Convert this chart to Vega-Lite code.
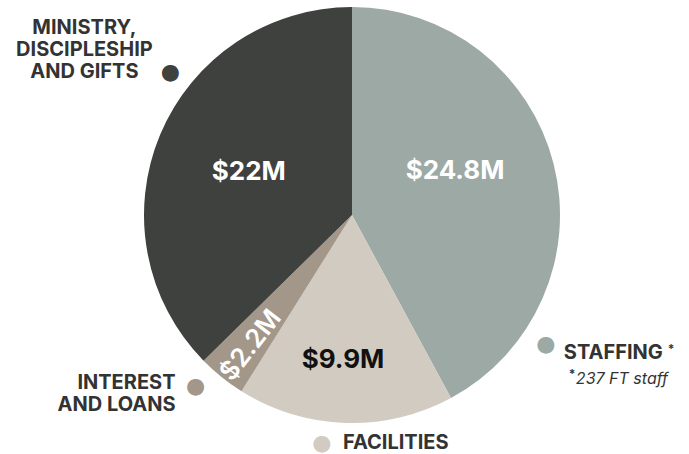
{
  "$schema": "https://vega.github.io/schema/vega-lite/v6.json",
  "width": 674,
  "height": 430,
  "autosize": {"type": "none"},
  "padding": {"left": 15, "top": 0, "right": 0, "bottom": 24},
  "background": "white",
  "config": {"view": {"stroke": null}, "text": {"font": "Inter"}},
  "data": {
    "values": [
      {"category": "Staffing", "value": 24.8, "amount": "$24.8M", "order": 1},
      {"category": "Facilities", "value": 9.9, "amount": "$9.9M", "order": 2},
      {"category": "Interest and Loans", "value": 2.2, "amount": "$2.2M", "order": 3},
      {"category": "Ministry, Discipleship and Gifts", "value": 22, "amount": "$22M", "order": 4}
    ]
  },
  "encoding": {
    "theta": {"field": "value", "type": "quantitative", "stack": true},
    "order": {"field": "order", "type": "quantitative"},
    "detail": {"field": "category", "type": "nominal"}
  },
  "layer": [
    {
      "mark": {"type": "arc", "radius": 208},
      "encoding": {
        "color": {
          "field": "category",
          "type": "nominal",
          "scale": {
            "domain": ["Staffing", "Facilities", "Interest and Loans", "Ministry, Discipleship and Gifts"],
            "range": ["#9da9a5", "#d1cbc1", "#a3978a", "#3f413e"]
          },
          "legend": null
        }
      }
    },
    {
      "mark": {"type": "text", "radius": 112, "thetaOffset": -0.155, "fontSize": 26, "fontWeight": "bold", "color": "white", "align": "center", "baseline": "middle"},
      "encoding": {"text": {"condition": {"test": "datum.category === 'Staffing'", "field": "amount"}, "value": ""}}
    },
    {
      "mark": {"type": "text", "radius": 112, "fontSize": 26, "fontWeight": "bold", "color": "white", "align": "center", "baseline": "middle"},
      "encoding": {"text": {"condition": {"test": "datum.category === 'Ministry, Discipleship and Gifts'", "field": "amount"}, "value": ""}}
    },
    {
      "mark": {"type": "text", "radius": 145, "thetaOffset": 0.03, "fontSize": 26, "fontWeight": "bold", "color": "#111111", "align": "center", "baseline": "middle"},
      "encoding": {"text": {"condition": {"test": "datum.category === 'Facilities'", "field": "amount"}, "value": ""}}
    },
    {
      "mark": {"type": "text", "radius": 165, "thetaOffset": -0.017, "angle": 308, "fontSize": 26, "fontWeight": 600, "color": "white", "align": "center", "baseline": "middle"},
      "encoding": {"text": {"condition": {"test": "datum.category === 'Interest and Loans'", "field": "amount"}, "value": ""}}
    },
    {
      "mark": {"type": "text", "radius": 233, "thetaOffset": 0.836, "font": "DejaVu Sans", "fontSize": 22, "color": "#9da9a5", "align": "center", "baseline": "middle"},
      "encoding": {"text": {"condition": {"test": "datum.category === 'Staffing'", "value": "●"}, "value": ""}}
    },
    {
      "mark": {"type": "text", "radius": 230, "thetaOffset": 0.099, "font": "DejaVu Sans", "fontSize": 22, "color": "#d1cbc1", "align": "center", "baseline": "middle"},
      "encoding": {"text": {"condition": {"test": "datum.category === 'Facilities'", "value": "●"}, "value": ""}}
    },
    {
      "mark": {"type": "text", "radius": 232, "thetaOffset": 0.063, "font": "DejaVu Sans", "fontSize": 22, "color": "#a3978a", "align": "center", "baseline": "middle"},
      "encoding": {"text": {"condition": {"test": "datum.category === 'Interest and Loans'", "value": "●"}, "value": ""}}
    },
    {
      "mark": {"type": "text", "radius": 231, "thetaOffset": 0.269, "font": "DejaVu Sans", "fontSize": 22, "color": "#3f413e", "align": "center", "baseline": "middle"},
      "encoding": {"text": {"condition": {"test": "datum.category === 'Ministry, Discipleship and Gifts'", "value": "●"}, "value": ""}}
    },
    {
      "mark": {"type": "text", "radius": 231, "thetaOffset": 0.269, "dx": -86, "dy": -44, "fontSize": 20, "fontWeight": "bold", "lineHeight": 22, "color": "#333333", "align": "center", "baseline": "middle"},
      "encoding": {"text": {"condition": {"test": "datum.category === 'Ministry, Discipleship and Gifts'", "value": ["MINISTRY,", "DISCIPLESHIP", "AND GIFTS"]}, "value": ""}}
    },
    {
      "mark": {"type": "text", "radius": 232, "thetaOffset": 0.063, "dx": -20, "dy": -3, "fontSize": 20, "fontWeight": "bold", "lineHeight": 22, "color": "#333333", "align": "right", "baseline": "middle"},
      "encoding": {"text": {"condition": {"test": "datum.category === 'Interest and Loans'", "value": ["INTEREST", "AND LOANS"]}, "value": ""}}
    },
    {
      "mark": {"type": "text", "radius": 230, "thetaOffset": 0.099, "dx": 21, "dy": 0, "fontSize": 20, "fontWeight": "bold", "color": "#333333", "align": "left", "baseline": "middle"},
      "encoding": {"text": {"condition": {"test": "datum.category === 'Facilities'", "value": "FACILITIES"}, "value": ""}}
    },
    {
      "mark": {"type": "text", "radius": 233, "thetaOffset": 0.836, "dx": 18, "dy": 9, "fontSize": 20, "fontWeight": "bold", "color": "#333333", "align": "left", "baseline": "middle"},
      "encoding": {"text": {"condition": {"test": "datum.category === 'Staffing'", "value": "STAFFING"}, "value": ""}}
    },
    {
      "mark": {"type": "text", "radius": 233, "thetaOffset": 0.836, "dx": 122, "dy": 5, "fontSize": 12, "fontWeight": "bold", "color": "#333333", "align": "left", "baseline": "middle"},
      "encoding": {"text": {"condition": {"test": "datum.category === 'Staffing'", "value": "*"}, "value": ""}}
    },
    {
      "mark": {"type": "text", "radius": 233, "thetaOffset": 0.836, "dx": 23, "dy": 30, "fontSize": 12, "fontWeight": "bold", "color": "#333333", "align": "left", "baseline": "middle"},
      "encoding": {"text": {"condition": {"test": "datum.category === 'Staffing'", "value": "*"}, "value": ""}}
    },
    {
      "mark": {"type": "text", "radius": 233, "thetaOffset": 0.836, "dx": 30, "dy": 35, "fontSize": 16, "fontStyle": "italic", "color": "#333333", "align": "left", "baseline": "middle"},
      "encoding": {"text": {"condition": {"test": "datum.category === 'Staffing'", "value": "237 FT staff"}, "value": ""}}
    }
  ]
}
